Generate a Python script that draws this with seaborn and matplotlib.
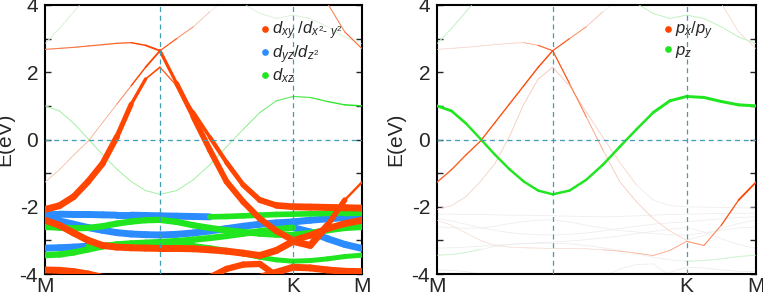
import numpy as np
import pandas as pd
import matplotlib
matplotlib.use("Agg")
import matplotlib.pyplot as plt
import matplotlib.colors as mcolors
from matplotlib.collections import LineCollection
from matplotlib.lines import Line2D
import seaborn as sns

# k-path M - G - K - M, path length in units of |MG|
k_nodes = [0.0, 1.0, 2.157, 2.757]
k_labels = ["M", "", "K", "M"]
k = np.concatenate([np.linspace(k_nodes[0], k_nodes[1], 9),
                    np.linspace(k_nodes[1], k_nodes[2], 9)[1:],
                    np.linspace(k_nodes[2], k_nodes[3], 5)[1:]])

# band energies (eV) at the 21 k points
band_a = [-2.08, -1.97, -1.7, -1.25, -0.72, 0.08, 1.05, 1.8, 2.15, 1.6, 0.82, 0.07, -0.68,
          -1.35, -1.8, -1.96, -2.0, -2.01, -2.02, -2.03, -2.04]
band_b = [-1.27, -0.9, -0.46, -0.05, 0.5, 1.05, 1.6, 2.15, 2.64, 1.67, 0.68, -0.31, -1.25,
          -1.85, -2.35, -2.72, -3.0, -2.85, -2.65, -2.5, -2.4]
band_c = [2.68, 2.71, 2.74, 2.78, 2.82, 2.86, 2.88, 2.8, 2.64, 3.0, 3.35, 3.8, 4.2,
          4.5, 4.7, 4.8, 4.75, 4.5, 4.05, 3.2, 2.7]
band_d = [2.85, 3.3, 3.8, 4.3, 4.7, 5.0, 5.2, 5.3, 5.3, 5.25, 5.1, 4.8, 4.4,
          4.05, 3.75, 3.6, 3.7, 3.6, 3.35, 3.05, 2.85]
band_g = [1.0, 0.85, 0.48, 0.02, -0.45, -0.88, -1.25, -1.52, -1.63, -1.52, -1.2, -0.75, -0.22,
          0.3, 0.8, 1.15, 1.28, 1.25, 1.13, 1.03, 1.0]
band_r3 = [-2.4, -2.55, -2.78, -3.0, -3.15, -3.2, -3.22, -3.23, -3.24, -3.24, -3.25, -3.28, -3.32,
           -3.38, -3.45, -3.3, -3.03, -3.15, -2.55, -1.8, -1.27]
band_r4 = [-3.88, -3.89, -3.93, -4.0, -4.1, -4.2, -4.25, -4.3, -4.3, -4.3, -4.3, -4.3, -4.25,
           -4.2, -4.1, -3.95, -3.8, -3.82, -3.88, -3.92, -3.93]
band_r5 = [-4.8, -4.8, -4.8, -4.8, -4.8, -4.7, -4.6, -4.5, -4.45, -4.4, -4.3, -4.1, -3.85,
           -3.72, -3.7, -4.05, -4.3, -4.4, -4.5, -4.6, -4.7]
band_b1 = [-2.22, -2.22, -2.23, -2.23, -2.24, -2.25, -2.25, -2.26, -2.27, -2.28, -2.29, -2.3, -2.29,
           -2.27, -2.25, -2.23, -2.22, -2.21, -2.2, -2.2, -2.19]
band_b2 = [-2.35, -2.42, -2.52, -2.62, -2.7, -2.77, -2.81, -2.83, -2.84, -2.82, -2.78, -2.72, -2.65,
           -2.58, -2.52, -2.48, -2.45, -2.4, -2.36, -2.32, -2.3]
band_g1 = [-2.6, -2.62, -2.64, -2.63, -2.58, -2.5, -2.44, -2.4, -2.39, -2.45, -2.55, -2.63, -2.7,
           -2.75, -2.8, -2.83, -2.84, -2.78, -2.7, -2.63, -2.6]
band_b3 = [-3.23, -3.22, -3.2, -3.17, -3.14, -3.12, -3.1, -3.09, -3.08, -3.1, -3.15, -3.22, -3.3,
           -3.4, -3.5, -3.58, -3.62, -3.6, -3.55, -3.48, -3.44]
band_g2 = [-3.44, -3.42, -3.36, -3.27, -3.18, -3.12, -3.09, -3.07, -3.05, -3.02, -2.98, -2.93, -2.87,
           -2.8, -2.73, -2.67, -2.62, -2.75, -2.95, -3.12, -3.24]

# orbital weights along pieces of the bands: (band, i_start, i_end, orbital, w_start, w_end)
d_weights = [
    ("b2", 0, 20, "b", 1.0, 1.0),
    ("b1", 0, 11, "b", 1.0, 1.0), ("b1", 11, 20, "g", 0.8, 0.8),
    ("g1", 0, 20, "g", 0.9, 0.9),
    ("b3", 0, 3, "b", 1.0, 1.0), ("b3", 3, 20, "g", 0.7, 0.7),
    ("g2", 0, 16, "g", 0.9, 0.9), ("g2", 16, 20, "b", 1.0, 1.0),
    ("a", 0, 5, "r", 1.0, 0.85), ("a", 5, 8, "r", 0.85, 0.05), ("a", 8, 11, "r", 0.05, 0.55),
    ("a", 11, 16, "r", 0.55, 1.0), ("a", 16, 20, "r", 1.0, 1.0),
    ("b", 0, 5, "r", 0.04, 0.06), ("b", 5, 8, "r", 0.06, 0.25), ("b", 8, 10, "r", 0.3, 0.8),
    ("b", 10, 20, "r", 0.8, 1.0),
    ("c", 0, 6, "r", 0.1, 0.13), ("c", 6, 8, "r", 0.13, 0.25), ("c", 8, 11, "r", 0.15, 0.02),
    ("c", 17, 20, "r", 0.07, 0.12),
    ("d", 0, 20, "g", 0.02, 0.02),
    ("g", 0, 13, "g", 0.06, 0.06), ("g", 13, 20, "g", 0.07, 0.16),
    ("r3", 0, 18, "r", 1.0, 1.0), ("r3", 18, 20, "r", 1.0, 0.06),
    ("r4", 0, 20, "r", 1.0, 1.0),
    ("r5", 9, 16, "r", 0.9, 0.9),
]
p_weights = [
    ("b", 0, 8, "r", 0.13, 0.15), ("b", 8, 11, "r", 0.15, 0.05), ("b", 11, 16, "r", 0.04, 0.02),
    ("a", 0, 8, "r", 0.02, 0.04), ("a", 8, 13, "r", 0.04, 0.02),
    ("c", 0, 6, "r", 0.02, 0.03), ("c", 6, 8, "r", 0.03, 0.15), ("c", 8, 11, "r", 0.15, 0.02),
    ("c", 17, 20, "r", 0.02, 0.02),
    ("g", 0, 2, "g", 0.38, 0.32), ("g", 2, 14, "g", 0.3, 0.32), ("g", 14, 20, "g", 0.38, 0.4),
    ("d", 0, 3, "g", 0.04, 0.04), ("d", 12, 20, "g", 0.04, 0.04),
    ("r3", 0, 11, "r", 0.01, 0.02), ("r3", 11, 16, "r", 0.04, 0.07), ("r3", 16, 18, "r", 0.08, 0.1),
    ("r3", 18, 20, "r", 0.1, 0.25),
    ("g2", 0, 3, "g", 0.03, 0.03), ("b3", 16, 20, "g", 0.03, 0.03),
]

bands = {"a": band_a, "b": band_b, "c": band_c, "d": band_d, "g": band_g,
         "r3": band_r3, "r4": band_r4, "r5": band_r5, "b1": band_b1, "b2": band_b2,
         "g1": band_g1, "b3": band_b3, "g2": band_g2}
orb_color = {"r": "#ff4500", "b": "#2b8cff", "g": "#1fe61f"}
orb_rank = {"b": 0, "g": 1, "r": 2}
dash_color = "#3f9eb0"

sns.set_style("ticks")
plt.rcParams["font.family"] = ["Liberation Sans", "DejaVu Sans"]
plt.rcParams["mathtext.fontset"] = "custom"
plt.rcParams["mathtext.rm"] = "Liberation Sans"
plt.rcParams["mathtext.it"] = "Liberation Sans:italic"
plt.rcParams["axes.unicode_minus"] = False

df = pd.DataFrame({"k": np.tile(k, len(bands)),
                   "E": np.concatenate([bands[n] for n in bands]),
                   "band": np.repeat(list(bands), len(k))})


def shade(c, w):
    a = min(1.0, 0.1 + 6.0 * w)
    rgb = np.array(mcolors.to_rgb(c))
    return tuple(1 - a * (1 - rgb))


def fat_bands(ax, weights):
    items = []
    for name, i0, i1, orb, w0, w1 in weights:
        e = bands[name]
        ws = np.linspace(w0, w1, i1 - i0 + 1)
        for j in range(i0, i1):
            w = 0.5 * (ws[j - i0] + ws[j - i0 + 1])
            items.append(((w >= 0.18, orb_rank[orb], w),
                          [(k[j], e[j]), (k[j + 1], e[j + 1])],
                          0.3 + 4.7 * w, shade(orb_color[orb], w)))
    items.sort(key=lambda t: t[0])
    lc = LineCollection([t[1] for t in items], linewidths=[t[2] for t in items],
                        colors=[t[3] for t in items], capstyle="round", joinstyle="round",
                        zorder=3)
    ax.add_collection(lc)


fig = plt.figure(figsize=(7.63, 2.95), dpi=100)
ax1 = fig.add_axes([45 / 763, 1 - 274 / 295, 317 / 763, 269 / 295])
ax2 = fig.add_axes([437 / 763, 1 - 274 / 295, 319 / 763, 269 / 295])

for ax, weights in [(ax1, d_weights), (ax2, p_weights)]:
    sns.lineplot(data=df, x="k", y="E", units="band", estimator=None, sort=False,
                 color="#eeeeee", lw=0.6, legend=False, ax=ax, zorder=1)
    fat_bands(ax, weights)
    ax.axhline(0, color=dash_color, lw=0.9, ls=(0, (4, 3)), zorder=5)
    for kn in k_nodes[1:3]:
        ax.axvline(kn, color=dash_color, lw=0.9, ls=(0, (4, 3)), zorder=5)
    ax.set_xlim(k_nodes[0], k_nodes[-1])
    ax.set_ylim(-4, 4)
    ax.set_xticks(k_nodes)
    ax.set_xticklabels(k_labels)
    ax.set_yticks([-4, -2, 0, 2, 4])
    ax.set_yticks([-3, -1, 1, 3], minor=True)
    ax.tick_params(axis="x", length=0, pad=2, labelsize=15)
    ax.tick_params(axis="y", which="both", direction="in", left=True, right=True,
                   length=4, width=1, labelsize=15, pad=5)
    ax.set_xlabel("")
    ax.set_ylabel("E(eV)", fontsize=15)
    ax.yaxis.set_label_coords(-0.098, 0.5)
    for s in ax.spines.values():
        s.set_linewidth(1.5)
        s.set_color("black")

d_handles = [Line2D([], [], ls="", marker="o", ms=3.8, color=orb_color[o]) for o in "rbg"]
d_labels = [r"$d_{xy}\ /d_{x^2\text{-}\ y^2}$", r"$d_{yz}/d_{z^2}$", r"$d_{xz}$"]
ax1.legend(d_handles, d_labels, loc="upper left", bbox_to_anchor=(0.68, 0.945), frameon=False,
           fontsize=12, handlelength=0.5, handletextpad=0.2, labelspacing=0.05,
           borderaxespad=0, borderpad=0)

p_handles = [Line2D([], [], ls="", marker="o", ms=3.8, color=orb_color[o]) for o in "rg"]
p_labels = [r"$p_x/p_y$", r"$p_z$"]
ax2.legend(p_handles, p_labels, loc="upper left", bbox_to_anchor=(0.71, 0.945), frameon=False,
           fontsize=12, handlelength=0.5, handletextpad=0.2, labelspacing=0.05,
           borderaxespad=0, borderpad=0)

fig.savefig("out.png", dpi=100)
